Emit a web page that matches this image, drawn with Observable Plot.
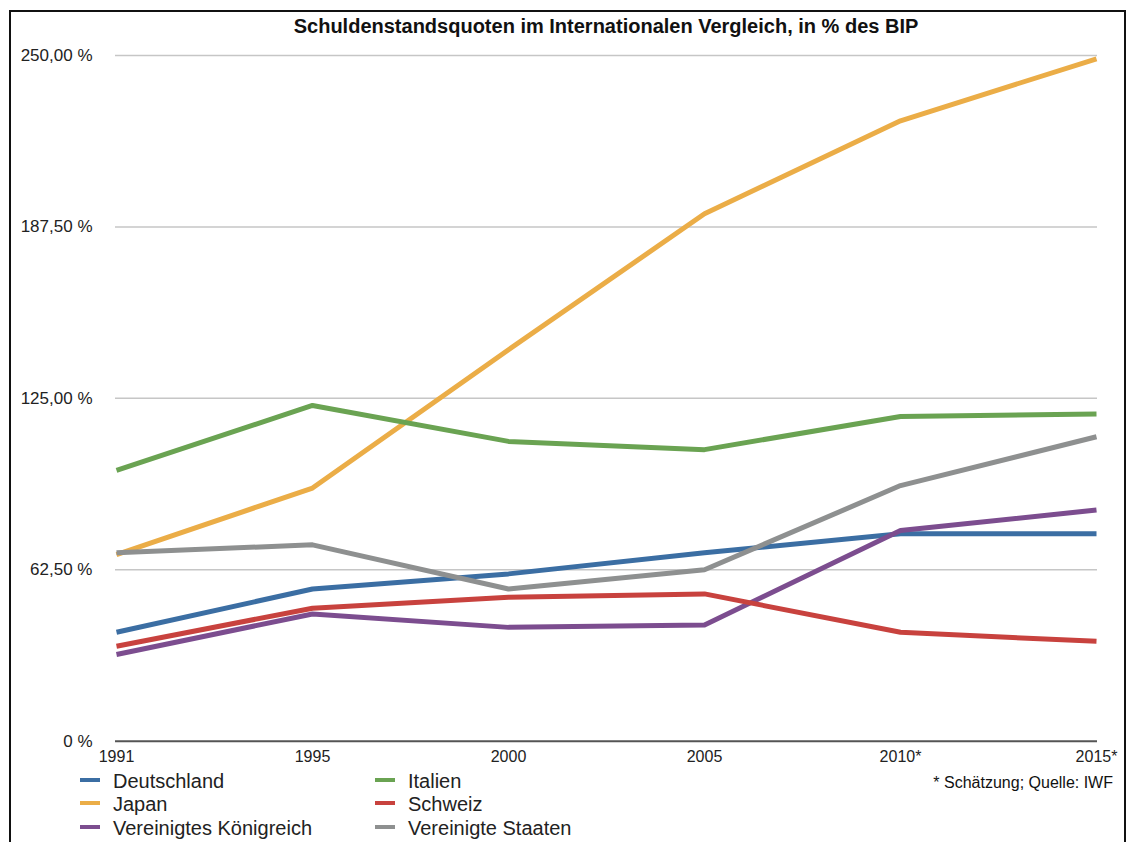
<!DOCTYPE html>
<html>
<head>
<meta charset="utf-8">
<script src="https://cdn.jsdelivr.net/npm/d3@7"></script>
<script src="https://cdn.jsdelivr.net/npm/@observablehq/plot@0.6"></script>
<style>
  html, body { margin: 0; padding: 0; background: #fff; overflow: hidden; }
  body { width: 1131px; height: 842px; position: relative; font-family: "Liberation Sans", Arial, Helvetica, sans-serif; color: #222; }
  #frame { position: absolute; left: 9px; top: 10px; width: 1117px; height: 900px; border: 2px solid #111; box-sizing: border-box; }
  #title { position: absolute; left: 115px; width: 982px; top: 15px; text-align: center; font-weight: bold; font-size: 20px; color: #111; white-space: nowrap; }
  #chart { position: absolute; left: 0; top: 40px; }
  .leg { position: absolute; font-size: 20px; color: #222; line-height: 1; white-space: nowrap; }
  .sw { position: absolute; width: 20px; height: 3.5px; }
  #caption { position: absolute; right: 18px; top: 774px; font-size: 16px; color: #111; }
</style>
</head>
<body>
<div id="frame"></div>
<div id="title">Schuldenstandsquoten im Internationalen Vergleich, in % des BIP</div>
<div id="chart"></div>
<div id="legend"></div>
<div id="caption">* Schätzung; Quelle: IWF</div>
<script>
const years = ["1991", "1995", "2000", "2005", "2010*", "2015*"];
const countries = ["Deutschland", "Japan", "Vereinigtes Königreich", "Italien", "Schweiz", "Vereinigte Staaten"];
const colors = ["#3b6ea3", "#ebad47", "#7c4d8f", "#6aa352", "#c8423e", "#8e9090"];
const legendOrder = ["Deutschland", "Italien", "Japan", "Schweiz", "Vereinigtes Königreich", "Vereinigte Staaten"];

const deutschland = [39.7, 55.5, 61.0, 68.7, 75.6, 75.6];
const japan = [68.0, 92.3, 142.7, 192.3, 226.2, 248.8];
const vereinigtesKoenigreich = [31.6, 46.4, 41.5, 42.4, 76.8, 84.3];
const italien = [98.7, 122.4, 109.3, 106.3, 118.4, 119.3];
const schweiz = [34.6, 48.5, 52.5, 53.7, 39.7, 36.4];
const vereinigteStaaten = [68.7, 71.6, 55.5, 62.5, 93.2, 111.0];

const yTicks = [0, 62.5, 125, 187.5, 250];
const yTickLabels = ["0 %", "62,50 %", "125,00 %", "187,50 %", "250,00 %"];

const series = [deutschland, japan, vereinigtesKoenigreich, italien, schweiz, vereinigteStaaten];
const data = [];
countries.forEach((c, ci) => {
  years.forEach((y, i) => data.push({country: c, year: y, value: series[ci][i]}));
});

const fmt = d => yTickLabels[yTicks.indexOf(d)];

const chart = Plot.plot({
  width: 1131,
  height: 740,
  marginLeft: 115,
  marginRight: 34,
  marginTop: 15,
  marginBottom: 39.3,
  style: {fontFamily: '"Liberation Sans", Arial, Helvetica, sans-serif', fontSize: "16px", color: "#222", background: "transparent"},
  x: {type: "point", domain: years, padding: 0, label: null},
  y: {domain: [0, 250], label: null},
  color: {domain: countries, range: colors},
  marks: [
    Plot.ruleY(yTicks.filter(d => d > 0), {stroke: "#c6c6c6", strokeWidth: 1.5}),
    Plot.ruleY([0], {stroke: "#555", strokeWidth: 2}),
    Plot.axisY({ticks: yTicks, tickSize: 0, tickPadding: 23, tickFormat: fmt, fontSize: 17, label: null}),
    Plot.axisX({tickSize: 0, tickPadding: 9, fontSize: 16, label: null}),
    Plot.line(data, {x: "year", y: "value", z: "country", stroke: "country", strokeWidth: 5, strokeLinecap: "butt", strokeLinejoin: "round"})
  ]
});
document.getElementById("chart").appendChild(chart);

const legend = document.getElementById("legend");
const colX = [[80, 113], [375, 408]];
const rowY = [780, 803, 827];
legendOrder.forEach((c, i) => {
  const col = i % 2, row = Math.floor(i / 2);
  const sw = document.createElement("div");
  sw.className = "sw";
  sw.style.left = colX[col][0] + "px";
  sw.style.top = (rowY[row] - 2) + "px";
  sw.style.background = colors[countries.indexOf(c)];
  legend.appendChild(sw);
  const t = document.createElement("div");
  t.className = "leg";
  t.textContent = c;
  t.style.left = colX[col][1] + "px";
  t.style.top = (rowY[row] - 9) + "px";
  legend.appendChild(t);
});
</script>
</body>
</html>
